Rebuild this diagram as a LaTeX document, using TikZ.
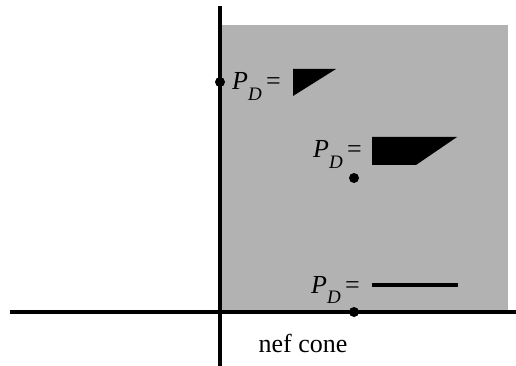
\documentclass[tikz,border=0pt]{standalone}
\usepackage{fontspec}
\setmainfont{Liberation Serif}
\newcommand{\PDlab}{\textit{P}\raisebox{-0.42em}{\fontsize{19}{21}\selectfont\textit{D}}\,=}
\begin{document}
\begin{tikzpicture}[x=1pt,y=-1pt,
  axis/.style={line width=3.4pt},
  dot/.style={circle,fill=black,inner sep=0pt,minimum size=10pt},
  lab/.style={anchor=base west,inner sep=0pt,font=\fontsize{26}{30}\selectfont},
  shapefill/.style={fill=black}]
\useasboundingbox (0,0) rectangle (516,366);
% shaded cone
\fill[black!30] (220,25) rectangle (508,312);
% axes
\coordinate (vtop) at (220,6);
\coordinate (vbot) at (220,366);
\coordinate (hl) at (10,312);
\coordinate (hr) at (516,312);
\draw[axis] (vtop) -- (vbot);
\draw[axis] (hl) -- (hr);
% dots
\node[dot] (d1) at (220,82) {};
\node[dot] (d2) at (354,178) {};
\node[dot] (d3) at (354,312) {};
% labels
\node[lab] (l1) at (232,90) {\PDlab};
\node[lab] (l2) at (313,158) {\PDlab};
\node[lab] (l3) at (311,293) {\PDlab};
% shapes
\fill[shapefill] (293,69) -- (336,69) -- (293,96) -- cycle;
\fill[shapefill] (372,137) -- (457,137) -- (416,165) -- (372,165) -- cycle;
\draw[line width=3.2pt] (372,285) -- (458,285);
% caption
\node[anchor=base,inner sep=0pt,font=\fontsize{26}{30}\selectfont] (cap) at (303,352) {nef cone};
\end{tikzpicture}
\end{document}
